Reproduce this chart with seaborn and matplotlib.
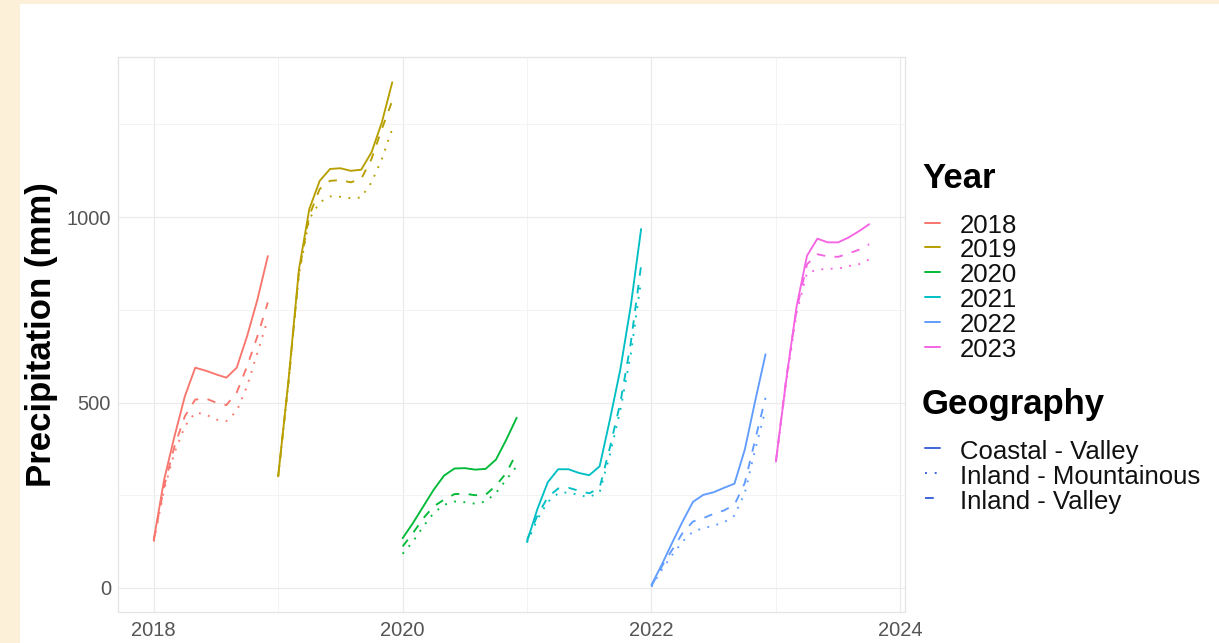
import matplotlib
matplotlib.use("Agg")
import matplotlib.pyplot as plt
from matplotlib.lines import Line2D
from matplotlib.patches import Rectangle
import numpy as np
import pandas as pd
import seaborn as sns

# ---------------- data ----------------
years = [2018, 2019, 2020, 2021, 2022, 2023]
year_colors = ["#F8766D", "#B79F00", "#00BA38", "#00BFC4", "#619CFF", "#F564E3"]
geographies = ["Coastal - Valley", "Inland - Mountainous", "Inland - Valley"]

# cumulative precipitation (mm), one value per month starting in January
coastal_valley = {
    2018: [130, 292, 409, 517, 594, 586, 576, 567, 594, 679, 778, 895],
    2019: [301, 562, 859, 1022, 1098, 1130, 1132, 1125, 1128, 1175, 1256, 1364],
    2020: [134, 175, 220, 265, 303, 322, 323, 319, 321, 346, 400, 459],
    2021: [125, 213, 285, 320, 320, 310, 304, 328, 455, 590, 760, 968],
    2022: [8, 63, 122, 179, 232, 251, 258, 270, 281, 373, 504, 630],
    2023: [341, 562, 760, 896, 942, 932, 932, 945, 962, 981],
}
inland_mountainous = {
    2018: [125, 265, 365, 436, 473, 468, 454, 450, 477, 544, 635, 724],
    2019: [301, 555, 845, 995, 1040, 1056, 1055, 1051, 1053, 1094, 1157, 1238],
    2020: [92, 125, 166, 202, 224, 233, 231, 227, 233, 256, 292, 328],
    2021: [122, 185, 232, 255, 258, 250, 245, 258, 360, 480, 630, 830],
    2022: [3, 49, 89, 125, 152, 161, 168, 177, 195, 256, 373, 481],
    2023: [341, 554, 742, 850, 858, 861, 861, 868, 873, 886],
}
inland_valley = {
    2018: [128, 274, 382, 463, 508, 511, 500, 493, 527, 598, 679, 770],
    2019: [301, 558, 851, 1004, 1076, 1098, 1100, 1094, 1103, 1157, 1238, 1314],
    2020: [112, 148, 188, 220, 238, 253, 254, 250, 251, 276, 310, 364],
    2021: [130, 195, 245, 268, 270, 262, 255, 270, 380, 500, 660, 870],
    2022: [5, 58, 103, 148, 179, 188, 200, 209, 224, 283, 400, 513],
    2023: [341, 567, 751, 873, 900, 894, 893, 902, 912, 927],
}

x_ticks = [2018, 2020, 2022, 2024]
y_ticks = [0, 500, 1000]

# ---------------- long-format table ----------------
rows = []
for geo, table in zip(geographies, [coastal_valley, inland_mountainous, inland_valley]):
    for yr in years:
        for m, v in enumerate(table[yr]):
            rows.append({"date": yr + m / 12, "precip": v, "Year": str(yr), "Geography": geo})
df = pd.DataFrame(rows)

# ---------------- figure ----------------
sns.set_theme(style="white")
plt.rcParams["font.family"] = ["Liberation Sans", "DejaVu Sans"]

W, H = 1219, 643
fig = plt.figure(figsize=(W / 100, H / 100), dpi=100, facecolor="#FDF0D8")
card = Rectangle((20 / W, 0), 1 - 20 / W, 1 - 4 / H, transform=fig.transFigure,
                 facecolor="white", edgecolor="none", zorder=-10)
fig.add_artist(card)

ax = fig.add_axes([118 / W, 1 - 612 / H, (905 - 118) / W, (612 - 57) / H])
ax.set_zorder(1)
ax.set_facecolor("white")

year_labels = [str(y) for y in years]
palette = dict(zip(year_labels, year_colors))
dash_map = {"Coastal - Valley": "", "Inland - Mountainous": (1, 4), "Inland - Valley": (4.5, 5)}

sns.lineplot(data=df, x="date", y="precip", hue="Year", style="Geography",
             hue_order=year_labels, style_order=geographies, palette=palette,
             dashes=dash_map, estimator=None, sort=True, linewidth=1.35,
             legend=False, ax=ax)
for line in ax.get_lines():
    line.set_solid_joinstyle("round")

# ggplot-like 5% expansion of the scales
xmin, xmax = df["date"].min(), df["date"].max()
ymin, ymax = df["precip"].min(), df["precip"].max()
ax.set_xlim(xmin - 0.05 * (xmax - xmin), xmax + 0.05 * (xmax - xmin))
ax.set_ylim(ymin - 0.05 * (ymax - ymin), ymax + 0.05 * (ymax - ymin))

ax.set_xticks(x_ticks)
ax.set_xticklabels([str(t) for t in x_ticks])
ax.set_xticks([2019, 2021, 2023], minor=True)
ax.set_yticks(y_ticks)
ax.set_yticklabels([str(t) for t in y_ticks])
ax.set_yticks([250, 750, 1250], minor=True)

ax.grid(which="major", color="#EBEBEB", linewidth=0.9)
ax.grid(which="minor", color="#F3F3F3", linewidth=0.7)
ax.set_axisbelow(True)
for s in ax.spines.values():
    s.set_color("#E4E4E4")
    s.set_linewidth(0.9)

ax.tick_params(which="both", length=0)
ax.tick_params(axis="x", labelsize=14.5, labelcolor="#555555", pad=6.5)
ax.tick_params(axis="y", labelsize=14.5, labelcolor="#555555", pad=5)

ax.set_xlabel("")
ax.set_ylabel("Precipitation (mm)", fontsize=25, fontweight="bold", color="black", va="center")
ax.yaxis.set_label_coords((42 - 118) / (905 - 118), 0.5)

# ---------------- legends ----------------
def fx(px):
    return px / W


def fy(py):
    return 1 - py / H


fig.text(fx(922), fy(188), "Year", fontsize=25, fontweight="bold", va="baseline", ha="left",
         color="black")
year_centers = [224, 248, 273, 298, 323, 348]
for lab, col, yc in zip(year_labels, year_colors, year_centers):
    fig.add_artist(Line2D([fx(925), fx(940)], [fy(yc - 1), fy(yc - 1)], color=col, lw=1.4,
                          transform=fig.transFigure))
    fig.text(fx(960), fy(yc + 9), lab, fontsize=18.5, va="baseline", ha="left", color="#111111")

fig.text(fx(922), fy(414), "Geography", fontsize=25, fontweight="bold", va="baseline", ha="left",
         color="black")
geo_centers = [450, 475, 500]
for geo, yc in zip(geographies, geo_centers):
    ln = Line2D([fx(925), fx(940)], [fy(yc - 2), fy(yc - 2)], color="#3F63D8", lw=1.4,
                transform=fig.transFigure)
    d = dash_map[geo]
    if d:
        ln.set_dashes(d)
    fig.add_artist(ln)
    fig.text(fx(960), fy(yc + 9), geo, fontsize=18.5, va="baseline", ha="left", color="#111111")

fig.savefig("out.png", dpi=100, facecolor=fig.get_facecolor())
